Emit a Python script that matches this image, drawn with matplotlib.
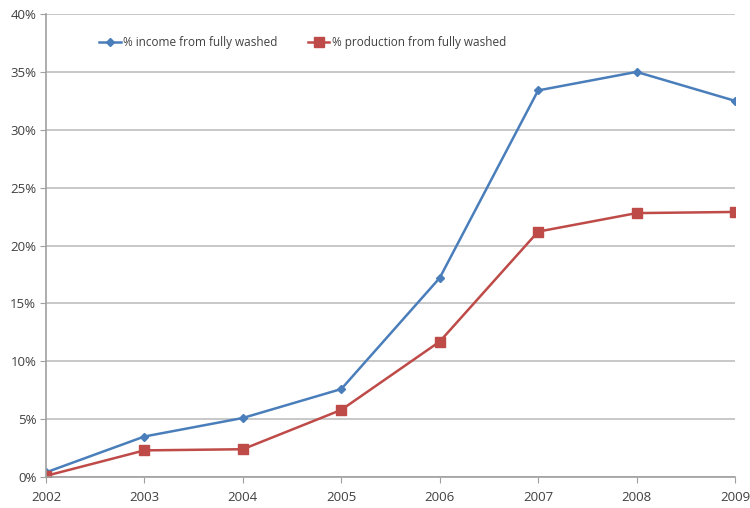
import matplotlib
matplotlib.use("Agg")
import matplotlib.pyplot as plt
from matplotlib.ticker import FuncFormatter

years = [2002, 2003, 2004, 2005, 2006, 2007, 2008, 2009]
income_pct = [0.4, 3.5, 5.1, 7.6, 17.2, 33.4, 35.0, 32.5]
production_pct = [0.1, 2.3, 2.4, 5.8, 11.7, 21.2, 22.8, 22.9]
y_ticks = [0, 5, 10, 15, 20, 25, 30, 35, 40]

plt.rcParams['font.family'] = ['Open Sans', 'DejaVu Sans']

fig = plt.figure(figsize=(7.5, 5.08), dpi=100)
ax = fig.add_axes([0.0613, 0.061, 0.9187, 0.9114])

blue = '#4a7ebb'
red = '#be4b48'

ax.plot(years, income_pct, color=blue, lw=1.8, marker='D', ms=4.5,
        label='% income from fully washed')
ax.plot(years, production_pct, color=red, lw=1.8, marker='s', ms=6.5,
        label='% production from fully washed')

ax.set_xlim(2002, 2009)
ax.set_ylim(0, 40)
ax.set_xticks(years)
ax.set_yticks(y_ticks)
ax.yaxis.set_major_formatter(FuncFormatter(lambda v, p: f'{int(v)}%'))

ax.grid(axis='y', color='#bfbfbf', lw=1.2)
ax.set_axisbelow(True)
for side in ['top', 'right']:
    ax.spines[side].set_visible(False)
for side in ['left', 'bottom']:
    ax.spines[side].set_color('#a0a0a0')
    ax.spines[side].set_linewidth(1.2)

ax.tick_params(axis='both', colors='#a0a0a0', labelcolor='#404040',
               labelsize=9.5, length=4, direction='out')
ax.tick_params(axis='x', pad=6)
ax.tick_params(axis='y', pad=3)

leg = ax.legend(loc='upper left', bbox_to_anchor=(0.062, 0.975), ncol=2,
                frameon=False, fontsize=8.5, handlelength=1.8,
                columnspacing=2.6, handletextpad=0.2)
for t in leg.get_texts():
    t.set_color('#404040')

fig.savefig('out.png', dpi=100)
